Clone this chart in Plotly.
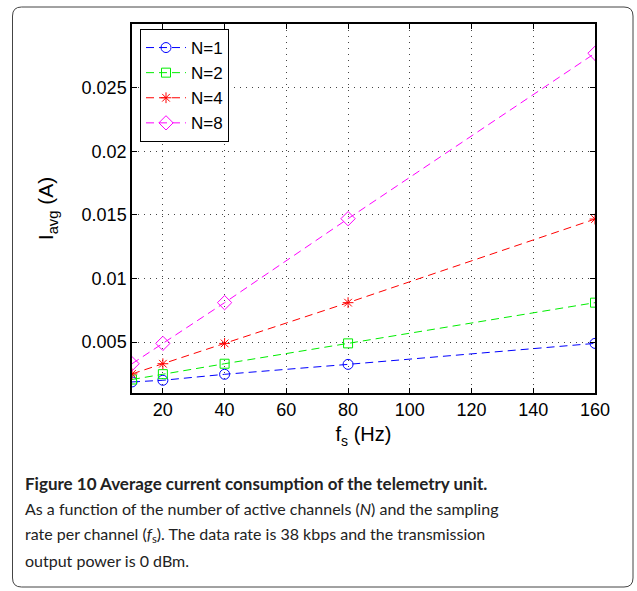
import plotly.graph_objects as go

fs = [10, 20, 40, 80, 160]
series_names = ["N=1", "N=2", "N=4", "N=8"]
i_n1 = [0.00187, 0.00200, 0.00247, 0.00325, 0.00490]
i_n2 = [0.00206, 0.00248, 0.00330, 0.00490, 0.00810]
i_n4 = [0.00250, 0.00330, 0.00490, 0.00810, 0.01467]
i_n8 = [0.00330, 0.00490, 0.00810, 0.01470, 0.02770]
x_ticks = [20, 40, 60, 80, 100, 120, 140, 160]
y_ticks = [0.005, 0.01, 0.015, 0.02, 0.025]
y_tick_labels = ["0.005", "0.01", "0.015", "0.02", "0.025"]

W, H = 637, 591
L, R, T, B = 132, 42, 24, 198
PW, PH = W - L - R, H - T - B


def px(x):
    return (x - L) / PW


def py(y):
    return (H - B - y) / PH


colors = ["#0000ff", "#00ee00", "#ff0000", "#ff00ff"]
symbols = ["circle-open", "square-open", "asterisk-open", "diamond-open"]
sizes = [10, 9, 9, 11]

fig = go.Figure()
for name, vals, c, s, sz in zip(series_names, [i_n1, i_n2, i_n4, i_n8], colors, symbols, sizes):
    fig.add_trace(go.Scatter(
        x=fs, y=vals, name=name, mode="lines+markers",
        line=dict(color=c, width=1, dash="8px,5px"),
        marker=dict(symbol=s, size=sz, color=c, line=dict(color=c, width=1)),
    ))

axis_common = dict(
    showline=True, linecolor="black", linewidth=1.5, mirror="ticks",
    ticks="inside", ticklen=5, tickcolor="black", tickwidth=1,
    showgrid=True, gridcolor="#444444", gridwidth=1, griddash="1px,5px",
    zeroline=False,
    tickfont=dict(family="Liberation Sans", size=18, color="black"),
)

fig.update_xaxes(range=[10, 160], tickvals=x_ticks, **axis_common,
                 title=dict(text="f<sub>s</sub> (Hz)", standoff=8,
                            font=dict(family="Liberation Sans", size=20, color="black")))
fig.update_yaxes(range=[0.001, 0.03], tickvals=y_ticks, ticktext=y_tick_labels, **axis_common,
                 title=dict(text="I<sub>avg</sub> (A)", standoff=22,
                            font=dict(family="Liberation Sans", size=21, color="black")))

shapes = []
# rounded outer frame
x0, x1, y0, y1, r = 12.5, 633, 7, 587, 9
path = (f"M {px(x0 + r)},{py(y0)} L {px(x1 - r)},{py(y0)} "
        f"Q {px(x1)},{py(y0)} {px(x1)},{py(y0 + r)} "
        f"L {px(x1)},{py(y1 - r)} Q {px(x1)},{py(y1)} {px(x1 - r)},{py(y1)} "
        f"L {px(x0 + r)},{py(y1)} Q {px(x0)},{py(y1)} {px(x0)},{py(y1 - r)} "
        f"L {px(x0)},{py(y0 + r)} Q {px(x0)},{py(y0)} {px(x0 + r)},{py(y0)} Z")
shapes.append(dict(type="path", xref="paper", yref="paper", path=path,
                   line=dict(color="#444444", width=1)))

cap_font = "Lato"
caption = [
    ("<b>Figure 10 Average current consumption of the telemetry unit.</b>", 483, 17),
    ("As a function of the number of active channels (<i>N</i>) and the sampling", 508, 16),
    ("rate per channel (<i>f</i><sub>s</sub>). The data rate is 38 kbps and the transmission", 534, 16),
    ("output power is 0 dBm.", 560, 16),
]
annotations = []
for text, yc, fsz in caption:
    annotations.append(dict(text=text, xref="paper", yref="paper", x=px(23), y=py(yc),
                            xanchor="left", yanchor="middle", showarrow=False, align="left",
                            font=dict(family=cap_font, size=fsz, color="#222222")))

fig.update_layout(
    width=W, height=H, margin=dict(l=L, r=R, t=T, b=B),
    paper_bgcolor="white", plot_bgcolor="white",
    shapes=shapes, annotations=annotations,
    legend=dict(x=px(140), y=py(29), xanchor="left", yanchor="top",
                bgcolor="white", bordercolor="black", borderwidth=1,
                font=dict(family="Liberation Sans", size=17, color="black"),
                itemwidth=40, tracegroupgap=0),
    showlegend=True,
)

fig.write_html("out.html")
